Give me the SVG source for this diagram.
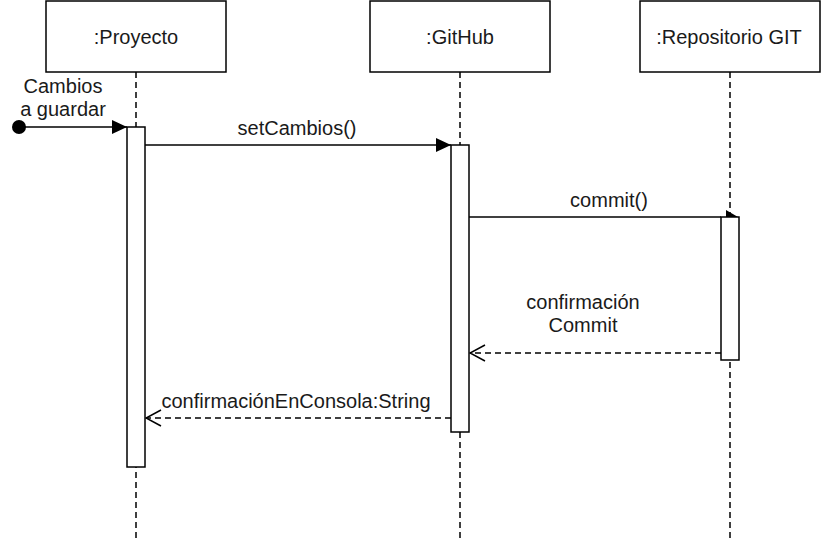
<svg xmlns="http://www.w3.org/2000/svg" width="821" height="542" viewBox="0 0 821 542">
<style>
.box{fill:#fff;stroke:#000;stroke-width:1.5}
.act{fill:#fff;stroke:#000;stroke-width:1.5}
.life{stroke:#000;stroke-width:1.5;stroke-dasharray:6 4;fill:none}
.msg{stroke:#000;stroke-width:1.5;fill:none}
.ret{stroke:#000;stroke-width:1.5;fill:none;stroke-dasharray:6 4}
text{font-family:"Liberation Sans",Arial,sans-serif;font-size:20px;fill:#1a1a1a;text-anchor:middle}
</style>
<defs>
<marker id="filled" viewBox="0 0 15 14" refX="15" refY="7" markerWidth="15" markerHeight="14" markerUnits="userSpaceOnUse" orient="auto">
<path d="M0,0 L15,7 L0,14 Z" fill="#000"/>
</marker>
<marker id="open" viewBox="0 0 17 18" refX="16" refY="9" markerWidth="17" markerHeight="18" markerUnits="userSpaceOnUse" orient="auto">
<path d="M1,1 L16,9 L1,17" fill="none" stroke="#000" stroke-width="1.5"/>
</marker>
</defs>
<g id="lifelines">
<line class="life" x1="136" y1="72" x2="136" y2="542"/>
<line class="life" x1="460" y1="72" x2="460" y2="542"/>
<line class="life" x1="730" y1="72" x2="730" y2="542"/>
</g>
<g id="proyecto">
<rect class="box" x="46" y="1" width="180" height="71"/>
<text x="136" y="44">:Proyecto</text>
</g>
<g id="github">
<rect class="box" x="370" y="1" width="180" height="71"/>
<text x="460" y="44">:GitHub</text>
</g>
<g id="repositorio">
<rect class="box" x="640" y="1" width="180" height="71"/>
<text x="729" y="44">:Repositorio GIT</text>
</g>
<g id="connectors">
<circle cx="19" cy="127" r="7" fill="#000"/>
<line class="msg" x1="19" y1="127" x2="127" y2="127" marker-end="url(#filled)"/>
<text x="63" y="93">Cambios</text>
<text x="63" y="116">a guardar</text>
<line class="msg" x1="145" y1="145" x2="451" y2="145" marker-end="url(#filled)"/>
<text x="297" y="135">setCambios()</text>
<path d="M726,210 L738,217 L726,224 Z" fill="#000"/>
<line class="msg" x1="469" y1="217" x2="721" y2="217"/>
<text x="609" y="207">commit()</text>
<line class="ret" x1="721" y1="353" x2="470" y2="353" marker-end="url(#open)"/>
<text x="583" y="309">confirmación</text>
<text x="583" y="332">Commit</text>
<line class="ret" x1="451" y1="418" x2="146" y2="418" marker-end="url(#open)"/>
<text x="296" y="408">confirmaciónEnConsola:String</text>
</g>
<g id="activations">
<rect class="act" x="127" y="127" width="18" height="340"/>
<rect class="act" x="451" y="145" width="18" height="287"/>
<rect class="act" x="721" y="217" width="18" height="143"/>
</g>
</svg>
